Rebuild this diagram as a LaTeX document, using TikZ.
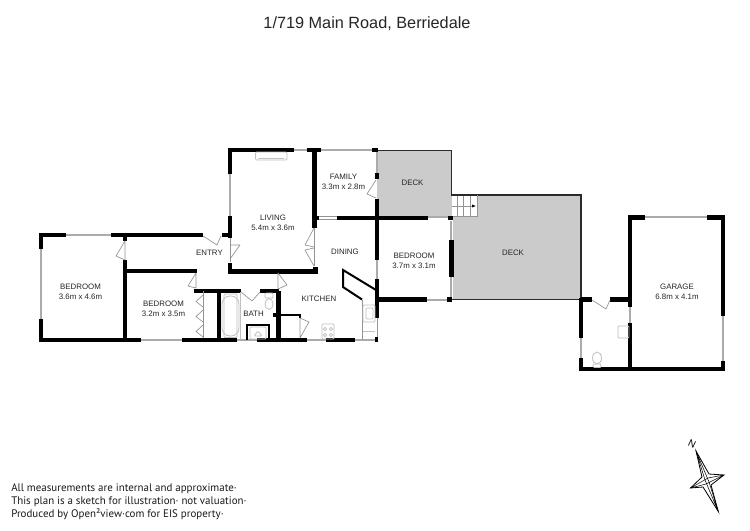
\documentclass[tikz,border=0pt]{standalone}
\usepackage{fontspec}
\setmainfont{Liberation Sans}
\newfontfamily\notefont{PT Sans}
\usetikzlibrary{arrows.meta}
\definecolor{deckgrey}{HTML}{CBCBCB}
\definecolor{wingrey}{HTML}{ABABAB}
\definecolor{fixgrey}{HTML}{C0C0C0}
\definecolor{ink}{HTML}{2A2A2A}
\tikzset{
  wall/.style={line width=3.2pt,black,line cap=butt},
  midwall/.style={line width=1.5pt,black},
  thinwall/.style={line width=1.1pt,ink},
  win/.style={line width=1.5pt,wingrey},
  door/.style={line width=0.5pt,gray!85,line join=round},
  fix/.style={line width=0.6pt,fixgrey,rounded corners=0.8pt},
  roomlabel/.style={font=\fontsize{5.9}{7.6}\selectfont,align=center,text=black!85,inner sep=0pt},
  notelabel/.style={font=\notefont\fontsize{8.2}{10}\selectfont,anchor=base west,inner sep=0pt,text=black!90},
}
\begin{document}
\begin{tikzpicture}[x=0.75pt,y=-0.75pt]
\useasboundingbox (0,0) rectangle (750,531);
\fill[white] (0,0) rectangle (750,531);
% decks
\fill[deckgrey] (377,150.5) -- (451.5,150.5) -- (451.5,217) -- (377,217) -- cycle;
\fill[deckgrey] (453,216) rectangle (581,299);
\fill[deckgrey] (477,195) rectangle (581,216);
\draw[thinwall] (377,150.5) -- (451.5,150.5) -- (451.5,195) -- (581,195) -- (581,299.5) -- (452,299.5);
% stairs
\draw[door] (451.5,216) -- (477,216) -- (477,195);
\draw[door] (457,196) -- (457,216) (463.5,196) -- (463.5,216) (470,196) -- (470,216);
\draw[door,-{Latex[length=3pt,width=2.5pt,black]}] (452,206) -- (476,206);
% windows and openings
\draw[win] (65,235) -- (111,235);
\draw[win] (41,249) -- (41,319);
\draw[win] (141,340) -- (182,340);
\draw[win] (237,340) -- (257,340);
\draw[win] (307,340) -- (326,340);
\draw[win] (355,340) -- (375,340);
\draw[win] (230,174) -- (230,216);
\draw[win] (294,150) -- (307,150);
\draw[win] (321,150) -- (372,150);
\draw[win] (377,152) -- (377,173);
\draw[win] (377,260) -- (377,279);
\draw[win] (428,217.5) -- (448,217.5);
\draw[win] (427,299.5) -- (447,299.5);
\draw[win] (451,221) -- (451,240);
\draw[win] (451,277) -- (451,297);
\draw[win] (645,217.5) -- (707,217.5);
\draw[win] (723,316) -- (723,361);
\draw[win] (630,307) -- (630,323);
\draw[win] (581,338) -- (581,358);
\draw[door] (319,216) -- (337,216) (319,219) -- (337,219);
\draw[door] (377,318) -- (377,338);
% walls
\draw[wall] (66,235) -- (41,235) -- (41,249);
\draw[wall] (41,319) -- (41,340) -- (141,340);
\draw[wall] (111,235) -- (203,235);
\draw[wall] (222,235) -- (230,235);
\draw[wall] (125,235) -- (125,241);
\draw[wall] (125,260) -- (125,340);
\draw[wall] (125,271) -- (197,271);
\draw[wall] (194,291) -- (241,291);
\draw[wall] (260,291) -- (279,291);
\draw[wall] (219,291) -- (219,340);
\draw[wall] (182,340) -- (237,340);
\draw[wall] (257,340) -- (307,340);
\draw[wall] (326,340) -- (355,340);
\draw[wall] (278.5,291) -- (278.5,340);
\draw[wall] (273,315) -- (279,315);
\draw[wall] (230,174) -- (230,150) -- (294,150);
\draw[wall] (230,216) -- (230,238);
\draw[wall] (230,263) -- (230,271.5) -- (315.5,271.5) -- (315.5,267);
\draw[wall] (307,150) -- (321,150);
\draw[wall] (314.5,150) -- (314.5,228);
\draw[wall] (314.5,218) -- (319,218);
\draw[wall] (337,218) -- (428,218);
\draw[wall] (372,150) -- (377.5,150);
\draw[wall] (377,173) -- (377,179);
\draw[wall] (377,199) -- (377,260);
\draw[wall] (377,279) -- (377,318);
\draw[wall] (377,299.5) -- (427,299.5);
\draw[wall] (447,299.5) -- (452,299.5);
\draw[wall] (448,218) -- (453,218);
\draw[wall] (451.5,240) -- (451.5,277);
\draw[wall] (375,339.5) -- (378,339.5);
\draw[wall] (581,299.5) -- (592,299.5);
\draw[wall] (610,299.5) -- (630,299.5);
\draw[wall] (581,298) -- (581,338);
\draw[wall] (581,358) -- (581,369) -- (723,369) -- (723,361);
\draw[wall] (645,217.5) -- (630,217.5) -- (630,307);
\draw[wall] (630,323) -- (630,369);
\draw[wall] (707,217.5) -- (723,217.5) -- (723,316);
% kitchen thin walls
\draw[midwall,line join=miter] (376,290) -- (343,270) -- (343,287) -- (362,299.5);
\draw[door] (362,299.5) -- (362,340);
\draw[midwall] (279,315) -- (300,315) -- (300,318);
\draw[midwall] (300,338) -- (300,340);
\draw[midwall] (247,340) -- (247,324.5) -- (268.5,324.5) -- (268.5,340);
\draw[line width=0.7pt,black] (203,291) -- (203,298);
% doors
\draw[door] (125,241) -- (116,256) -- (125,260) -- cycle;
\draw[door] (203,236) -- (217,245) -- (221,236);
\draw[door] (230,245) -- (240,245) -- (230,259);
\draw[door] (230,238) -- (230,262);
\draw[door] (196,288) -- (188,286) -- (196,273) -- cycle;
\draw[door] (241,292) -- (252,301) -- (260,292);
\draw[door] (278,273) -- (278,289) -- (287,285) -- cycle;
\draw[door] (314,228) -- (305,245) -- (314,247);
\draw[door] (314,248) -- (305,250) -- (314,266);
\draw[door] (314,228) -- (314,266);
\draw[door] (376,180) -- (367,194) -- (376,198);
\draw[door] (300,318) -- (300,338) -- (309,322) -- cycle;
\draw[door] (592,300) -- (606,309) -- (610,300);
% bifold doors
\draw[door] (203,291) -- (203,338);
\foreach \yy in {295,310,325}{
  \draw[door] (203,\yy) -- (196,\yy+6.5) -- (203,\yy+12);
}
% fixtures
\draw[fix] (255.5,152) rectangle (287,160);
\draw[fix] (258,158) -- (284,158);
\draw[fix,rounded corners=6pt] (222,296) rectangle (239,336);
\draw[fix] (224,294) rectangle (237,337.5);
\draw[fix] (240,292) -- (240,339);
\draw[fix] (265,293) rectangle (273,298);
\draw[fix] (269,304) ellipse (4 and 5.5);
\draw[fix] (250,327) rectangle (266,339);
\draw[fix] (258,331) -- (254,336) -- (262,336) -- cycle;
\draw[fix] (322,324) rectangle (334,339);
\draw[fix] (325,329) circle (1.6) (331,329) circle (1.6) (325,335) circle (1.6) (331,335) circle (1.6);
\draw[fix] (363,305) rectangle (375,322);
\draw[fix] (366,308) rectangle (373,319);
\draw[fix] (363,331) -- (375,331);
\draw[fix] (618,326) rectangle (629,338);
\draw[fix] (597,358) ellipse (4.5 and 6);
\draw[fix] (593,364) rectangle (601,367.5);
% room labels
\node[roomlabel] (roombed1) at (80.5,291.5) {BEDROOM\\3.6m x 4.6m};
\node[roomlabel] (roombed2) at (163.5,309) {BEDROOM\\3.2m x 3.5m};
\node[roomlabel] (roomentry) at (209.5,252.5) {ENTRY};
\node[roomlabel] (roomliving) at (273,222.5) {LIVING\\5.4m x 3.6m};
\node[roomlabel] (roomfamily) at (343.5,181.5) {FAMILY\\3.3m x 2.8m};
\node[roomlabel] (roomdining) at (345,251.5) {DINING};
\node[roomlabel] (roomkitchen) at (319,299) {KITCHEN};
\node[roomlabel] (roombath) at (253.5,313.5) {BATH};
\node[roomlabel] (roombed3) at (414,261) {BEDROOM\\3.7m x 3.1m};
\node[roomlabel] (roomdeck1) at (412.5,182.5) {DECK};
\node[roomlabel] (roomdeck2) at (513,252.5) {DECK};
\node[roomlabel] (roomgarage) at (677,292) {GARAGE\\6.8m x 4.1m};
% title
\node[font=\fontsize{12.2}{14}\selectfont,inner sep=0pt,text=black!85] (plantitle) at (367,24) {1/719 Main Road, Berriedale};
% notes
\node[notelabel] (noteone) at (11,491) {All measurements are internal and approximate·};
\node[notelabel] (notetwo) at (11,504.3) {This plan is a sketch for illustration· not valuation·};
\node[notelabel] (notethree) at (11,517.6) {Produced by Open²view·com for EIS property·};
% compass
\node[font=\fontsize{7.5}{8}\selectfont,rotate=-25,inner sep=0pt] (northmark) at (692,443.5) {N};
\draw[line width=0.6pt,black,line join=miter] (696,451) -- (709,474) -- (724,475) -- (711,485) -- (718.3,511.5) -- (703,487) -- (690.5,488) -- (702,477) -- cycle;
\draw[line width=0.4pt,black] (696,451) -- (705,480) -- (718.3,511.5) (696,451) -- (709,482) -- (718.3,511.5);
\draw[line width=0.4pt,black] (690.5,488) -- (708,478) -- (724,475) (690.5,488) -- (706,484) -- (724,475);
\end{tikzpicture}
\end{document}
